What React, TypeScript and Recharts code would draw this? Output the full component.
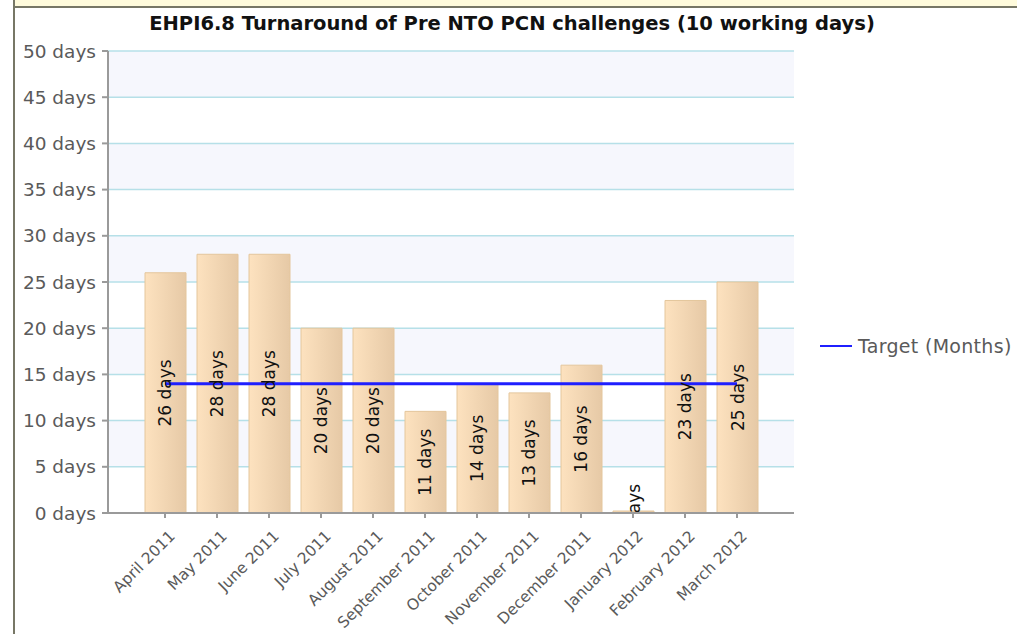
import React from "react";
import {
  Bar,
  CartesianGrid,
  ComposedChart,
  LabelList,
  Legend,
  Line,
  XAxis,
  YAxis,
} from "recharts";

const months = [
  "April 2011",
  "May 2011",
  "June 2011",
  "July 2011",
  "August 2011",
  "September 2011",
  "October 2011",
  "November 2011",
  "December 2011",
  "January 2012",
  "February 2012",
  "March 2012",
];
const turnaroundDays = [26, 28, 28, 20, 20, 11, 14, 13, 16, 0, 23, 25];
const targetDays = [14, 14, 14, 14, 14, 14, 14, 14, 14, 14, 14, 14];
const yTicks = [0, 5, 10, 15, 20, 25, 30, 35, 40, 45, 50];

const data = months.map((month, i) => ({
  month,
  days: turnaroundDays[i],
  target: targetDays[i],
}));

const FONT = "'DejaVu Sans', Verdana, sans-serif";
const TICK_COLOR = "#5a5a5a";

// rotated month names under the axis
const MonthTick = (props: any) => {
  const { x, y, payload } = props;
  const ax = x + 11;
  const ay = y + 17;
  return (
    <text
      x={ax}
      y={ay}
      transform={`rotate(-45, ${ax}, ${ay})`}
      textAnchor="end"
      fontSize={15.5}
      fontFamily={FONT}
      fill={TICK_COLOR}
    >
      {payload.value}
    </text>
  );
};

// value written sideways in the middle of each bar
const BarValue = (props: any) => {
  const { x, y, width, height, value } = props;
  const cx = x + width / 2;
  const cy = y + height / 2;
  return (
    <g clipPath="url(#plotClip)">
      <text
        x={cx}
        y={cy}
        transform={`rotate(-90, ${cx}, ${cy})`}
        textAnchor="middle"
        dominantBaseline="central"
        fontSize={17}
        fontFamily={FONT}
        fill="#111"
      >
        {`${value} days`}
      </text>
    </g>
  );
};

const renderLegend = () => (
  <div style={{ display: "flex", alignItems: "center", fontFamily: FONT }}>
    <svg width={32} height={4} style={{ marginRight: 6 }}>
      <line x1={0} y1={2} x2={32} y2={2} stroke="#1f1fff" strokeWidth={2} />
    </svg>
    <span style={{ fontSize: 19, letterSpacing: 0.3, color: TICK_COLOR }}>
      Target (Months)
    </span>
  </div>
);

const App: React.FC = () => {
  return (
    <div
      style={{
        position: "absolute",
        left: 0,
        top: 0,
        width: 1017,
        height: 634,
        background: "#fff",
        overflow: "hidden",
      }}
    >
      {/* window frame bits */}
      <div
        style={{
          position: "absolute",
          left: 15,
          top: 0,
          width: 1002,
          height: 6,
          background: "#fffbdc",
          borderBottom: "2px solid #777766",
        }}
      />
      <div
        style={{
          position: "absolute",
          left: 13,
          top: 0,
          width: 2,
          height: 634,
          background: "#777766",
        }}
      />

      {/* Title */}
      <div
        style={{
          position: "absolute",
          left: 0,
          top: 12,
          width: 1024,
          textAlign: "center",
          fontFamily: FONT,
          fontWeight: "bold",
          fontSize: 19.5,
          color: "#111",
        }}
      >
        EHPI6.8 Turnaround of Pre NTO PCN challenges (10 working days)
      </div>

      <div style={{ position: "absolute", left: 0, top: 0 }}>
        <ComposedChart
          width={1017}
          height={634}
          data={data}
          margin={{ top: 51, right: 23, bottom: 0, left: 14 }}
        >
          <defs>
            <linearGradient id="barFill" x1="0" y1="0" x2="1" y2="0">
              <stop offset="0%" stopColor="#fde2bf" />
              <stop offset="100%" stopColor="#e6c9a6" />
            </linearGradient>
            <clipPath id="plotClip">
              <rect x={108} y={51} width={686} height={461} />
            </clipPath>
          </defs>
          <CartesianGrid
            vertical={false}
            stroke="#b6e0e8"
            strokeWidth={1.5}
            horizontalFill={["#f6f7fd", "#ffffff"]}
          />
          <XAxis
            dataKey="month"
            interval={0}
            padding={{ left: 31, right: 31 }}
            tick={<MonthTick />}
            tickSize={5}
            stroke="#9a9a9a"
            strokeWidth={2}
            height={121}
          />
          <YAxis
            domain={[0, 50]}
            ticks={yTicks}
            interval={0}
            width={94}
            tickSize={6}
            tickMargin={6}
            stroke="#9a9a9a"
            strokeWidth={2}
            tickFormatter={(v) => `${v} days`}
            tick={{
              fontSize: 18.5,
              fontFamily: FONT,
              fill: TICK_COLOR,
            }}
          />
          <Bar
            dataKey="days"
            barSize={41}
            fill="url(#barFill)"
            stroke="#e4c69c"
            strokeWidth={1}
            minPointSize={2}
            isAnimationActive={false}
          >
            <LabelList dataKey="days" content={<BarValue />} />
          </Bar>
          <Line
            dataKey="target"
            name="Target (Months)"
            stroke="#1f1fff"
            strokeWidth={3}
            dot={false}
            activeDot={false}
            isAnimationActive={false}
          />
          <Legend
            layout="vertical"
            align="right"
            verticalAlign="top"
            content={renderLegend}
            wrapperStyle={{ left: 820, top: 335, width: 200 }}
          />
        </ComposedChart>
      </div>
    </div>
  );
};

export default App;
